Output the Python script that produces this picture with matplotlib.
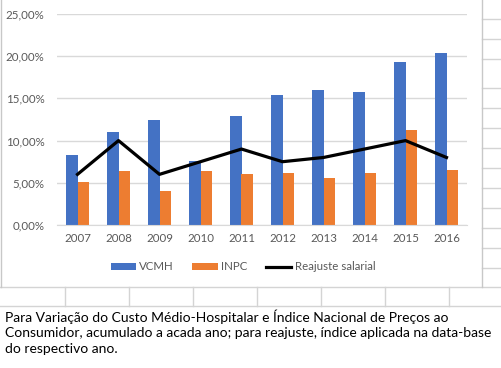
import numpy as np
import matplotlib.pyplot as plt
from matplotlib.lines import Line2D
from matplotlib.ticker import FuncFormatter

years = ['2007', '2008', '2009', '2010', '2011', '2012', '2013', '2014', '2015', '2016']
vcmh = [8.3, 11.0, 12.4, 7.6, 12.9, 15.4, 16.0, 15.8, 19.3, 20.4]
inpc = [5.1, 6.4, 4.0, 6.4, 6.0, 6.2, 5.6, 6.2, 11.3, 6.5]
reajuste = [6.0, 10.0, 6.0, 7.5, 9.0, 7.5, 8.0, 9.0, 10.0, 8.0]

note = ('Para Variação do Custo Médio-Hospitalar e Índice Nacional de Preços ao\n'
        'Consumidor, acumulado a acada ano; para reajuste, índice aplicada na data-base\n'
        'do respectivo ano.')

W, H = 502, 368
fig = plt.figure(figsize=(W / 100, H / 100), dpi=100)
plt.rcParams['font.family'] = ['Lato', 'DejaVu Sans']


def fx(px):
    return px / W


def fy(py):
    return 1 - py / H


# spreadsheet grid behind the chart
grid_c = '#d4d4d4'
for yy in [19, 39, 59, 88, 108, 128, 148, 168, 188, 208, 228, 248, 268]:
    fig.add_artist(Line2D([fx(482), 1], [fy(yy), fy(yy)], color=grid_c, lw=1))
for yy in [287, 306]:
    fig.add_artist(Line2D([0, 1], [fy(yy), fy(yy)], color=grid_c, lw=1))
for xx in [65, 129, 193, 257, 321, 385, 449]:
    fig.add_artist(Line2D([fx(xx), fx(xx)], [fy(287), fy(306)], color=grid_c, lw=1))
fig.add_artist(Line2D([fx(482), fx(482)], [fy(0), fy(287)], color='#c8c8c8', lw=1))
fig.add_artist(Line2D([fx(1), fx(1)], [fy(0), fy(287)], color='#c8c8c8', lw=1))

ax = fig.add_axes([fx(57), fy(225), fx(467) - fx(57), fy(14) - fy(225)])
x = np.arange(len(years))
bw = 0.29
b1 = ax.bar(x - bw / 2, vcmh, bw, color='#4472C4', label='VCMH', zorder=2)
b2 = ax.bar(x + bw / 2, inpc, bw, color='#ED7D31', label='INPC', zorder=2)
l1, = ax.plot(x, reajuste, color='black', lw=2.3, label='Reajuste salarial', zorder=3)

ax.set_xlim(-0.5, len(years) - 0.5)
ax.set_ylim(0, 25)
ax.set_yticks(np.arange(0, 26, 5))
ax.yaxis.set_major_formatter(FuncFormatter(lambda v, p: f'{v:.2f}%'.replace('.', ',')))
ax.set_xticks(x)
ax.set_xticklabels(years)
ax.tick_params(length=0, colors='#595959', labelsize=8.3)
ax.tick_params(axis='y', pad=9)
ax.tick_params(axis='x', pad=6)
ax.grid(axis='y', color='#d9d9d9', lw=1, zorder=0)
for s in ['left', 'right', 'top']:
    ax.spines[s].set_visible(False)
ax.spines['bottom'].set_color('#d9d9d9')

fig.legend([b1, b2, l1], ['VCMH', 'INPC', 'Reajuste salarial'],
           loc='center', bbox_to_anchor=(fx(243), fy(267)), ncol=3, frameon=False,
           fontsize=8.3, labelcolor='#595959', handlelength=2.2, handleheight=0.6,
           columnspacing=1.6, handletextpad=0.3)

fig.text(fx(5), fy(309), note, ha='left', va='top', fontsize=10.0, linespacing=1.38,
         color='black')

fig.savefig('out.png', dpi=100)
